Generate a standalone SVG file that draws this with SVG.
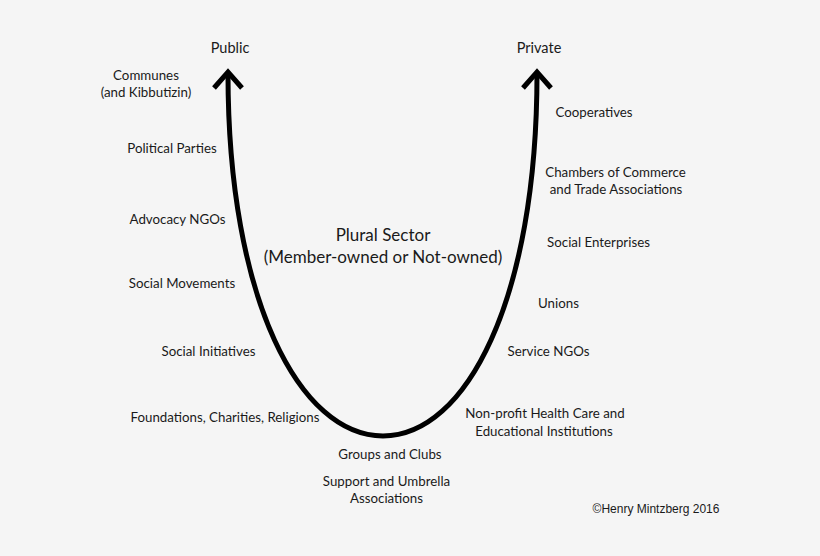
<svg xmlns="http://www.w3.org/2000/svg" width="820" height="556" viewBox="0 0 820 556">
<style>
.t{font-family:"Lato","Noto Sans",sans-serif;font-size:13.3px;fill:#1a1a1a;text-anchor:middle}
.h{font-size:14.5px}
.p{font-size:17px}
.c{font-family:"Liberation Sans",Arial,sans-serif;font-size:12px;fill:#1a1a1a;text-anchor:middle}
.ln{fill:none;stroke:#000;stroke-width:5;stroke-linecap:butt;stroke-linejoin:miter}
</style>
<rect width="820" height="556" fill="#f5f5f5"/>
<g id="connectors">
<path class="ln" d="M228,74 C228,300 300,436 383,436 C466,436 537,300 537,74"/>
<polyline class="ln" points="214,88 228,72 242,88"/>
<polyline class="ln" points="523,88 537,72 551,88"/>
</g>
<g id="public"><text class="t h" x="230" y="53">Public</text></g>
<g id="private"><text class="t h" x="539" y="53">Private</text></g>
<g id="plural"><text class="t p" x="383" y="241">Plural Sector</text><text class="t p" x="383" y="263">(Member-owned or Not-owned)</text></g>
<g id="communes"><text class="t" x="146" y="80">Communes</text><text class="t" x="146" y="97">(and Kibbutizin)</text></g>
<g id="political"><text class="t" x="172" y="153">Political Parties</text></g>
<g id="advocacy"><text class="t" x="177.5" y="224">Advocacy NGOs</text></g>
<g id="movements"><text class="t" x="182" y="288">Social Movements</text></g>
<g id="initiatives"><text class="t" x="208.5" y="356">Social Initiatives</text></g>
<g id="foundations"><text class="t" x="225" y="422">Foundations, Charities, Religions</text></g>
<g id="groups"><text class="t" x="390" y="459">Groups and Clubs</text></g>
<g id="support"><text class="t" x="386.5" y="486">Support and Umbrella</text><text class="t" x="386.5" y="503">Associations</text></g>
<g id="nonprofit"><text class="t" x="545" y="418">Non-profit Health Care and</text><text class="t" x="544" y="436">Educational Institutions</text></g>
<g id="service"><text class="t" x="548.5" y="356">Service NGOs</text></g>
<g id="unions"><text class="t" x="558.5" y="308">Unions</text></g>
<g id="enterprises"><text class="t" x="598.5" y="247">Social Enterprises</text></g>
<g id="chambers"><text class="t" x="615.5" y="177">Chambers of Commerce</text><text class="t" x="616" y="194">and Trade Associations</text></g>
<g id="cooperatives"><text class="t" x="594" y="117">Cooperatives</text></g>
<g id="copyright"><text class="c" x="656" y="513">©Henry Mintzberg 2016</text></g>
</svg>
